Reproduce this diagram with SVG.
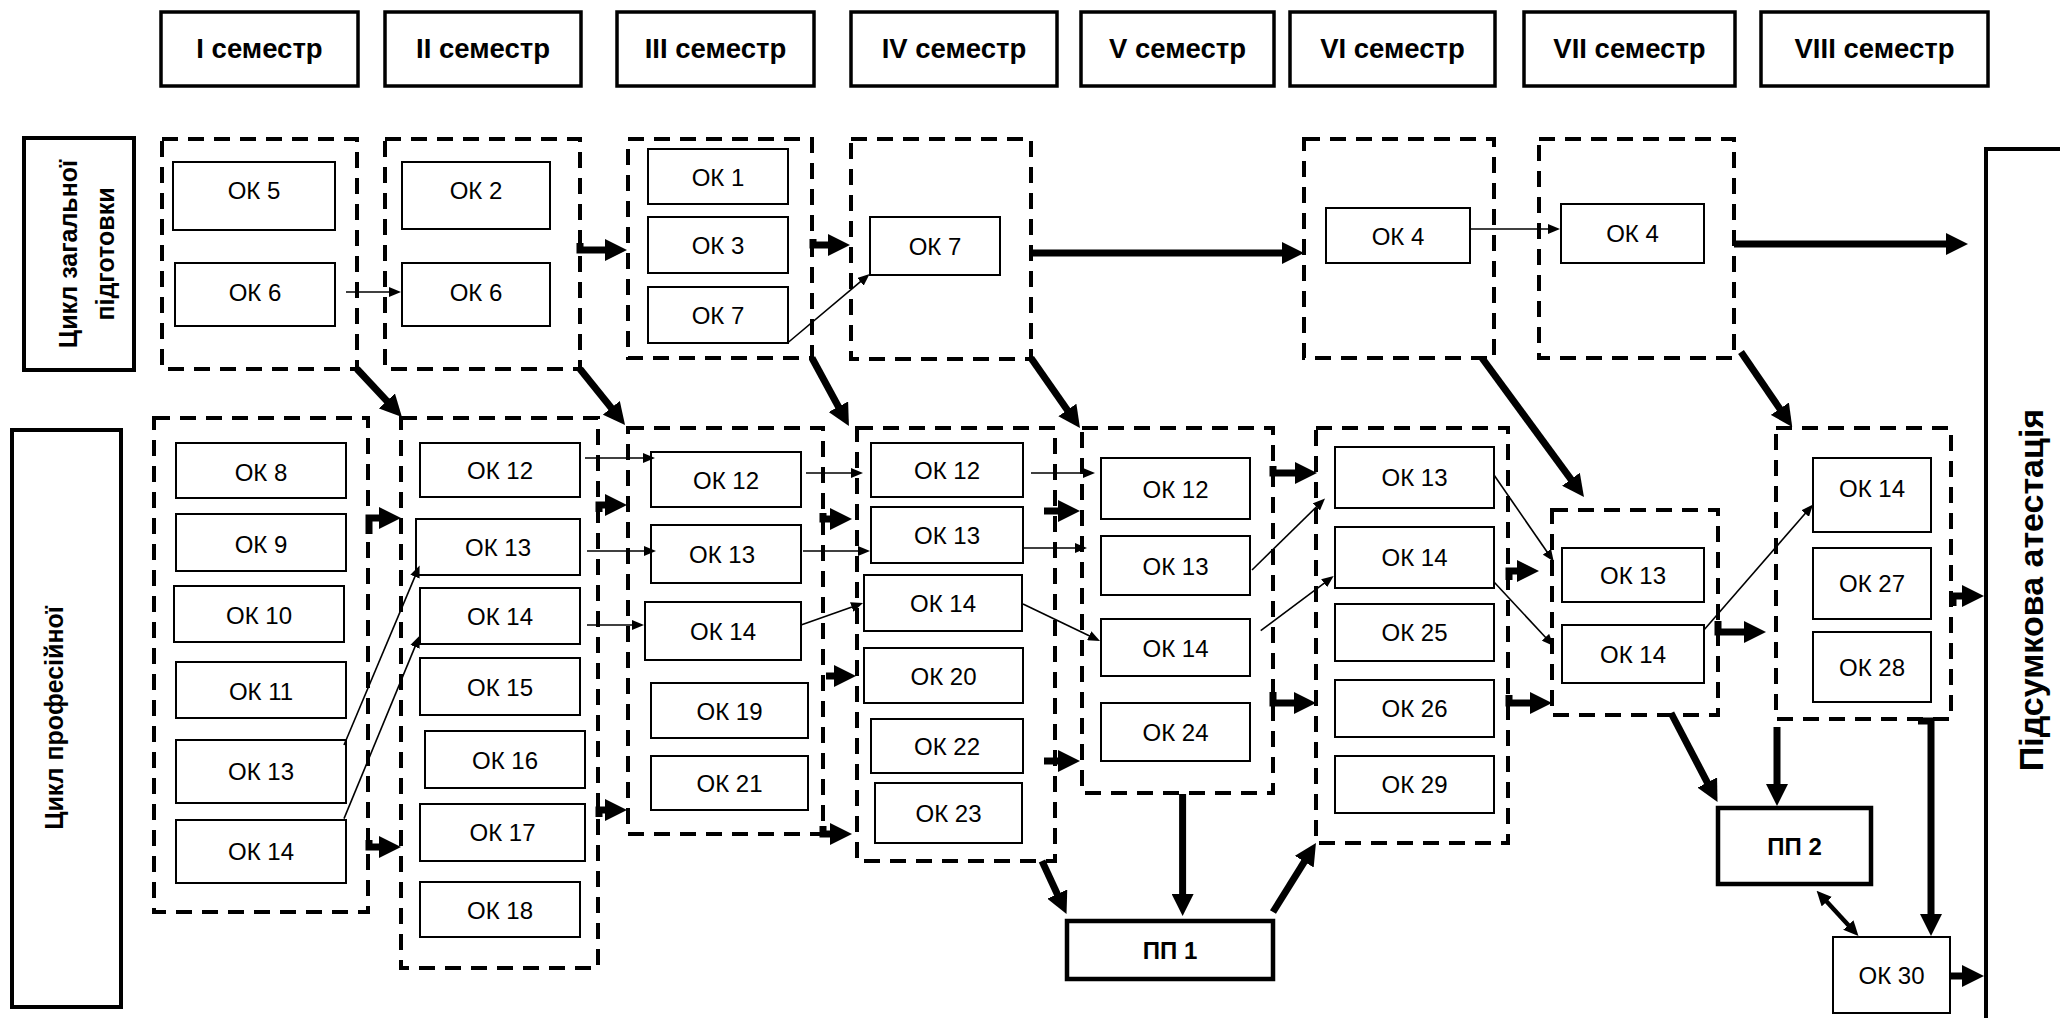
<svg xmlns="http://www.w3.org/2000/svg" width="2060" height="1018" viewBox="0 0 2060 1018">
<defs>
<style>
.hdr{fill:#fff;stroke:#000;stroke-width:3.5}
.side{fill:#fff;stroke:#000;stroke-width:4}
.grp{fill:none;stroke:#000;stroke-width:4;stroke-dasharray:16 10}
.nd{fill:#fff;stroke:#000;stroke-width:2}
.pp{fill:#fff;stroke:#000;stroke-width:4.5}
.ht{font-family:"Liberation Sans",Arial,sans-serif;font-weight:bold;font-size:27.5px;text-anchor:middle}
.vt{font-family:"Liberation Sans",Arial,sans-serif;font-weight:bold;font-size:25px;text-anchor:middle}
.nt{font-family:"Liberation Sans",Arial,sans-serif;font-size:24px;text-anchor:middle}
.pt{font-family:"Liberation Sans",Arial,sans-serif;font-weight:bold;font-size:24px;text-anchor:middle}
.thick{fill:none;stroke:#000;stroke-width:7;marker-end:url(#big)}
.thin{fill:none;stroke:#000;stroke-width:1.6;marker-end:url(#sm)}
.dbl{fill:none;stroke:#000;stroke-width:4.5;marker-end:url(#md);marker-start:url(#md)}
</style>
<marker id="big" viewBox="0 0 22 22" refX="6" refY="11" markerWidth="22" markerHeight="22" markerUnits="userSpaceOnUse" orient="auto"><path d="M0,0L22,11L0,22z" fill="#000"/></marker>
<marker id="sm" viewBox="0 0 12 10" refX="4" refY="5" markerWidth="12" markerHeight="10" markerUnits="userSpaceOnUse" orient="auto"><path d="M0,0L12,5L0,10z" fill="#000"/></marker>
<marker id="md" viewBox="0 0 15 14" refX="5" refY="7" markerWidth="15" markerHeight="14" markerUnits="userSpaceOnUse" orient="auto-start-reverse"><path d="M0,0L15,7L0,14z" fill="#000"/></marker>
</defs>
<rect width="2060" height="1018" fill="#fff"/>

<g id="headers">
<g id="sem1"><rect class="hdr" x="161" y="12" width="197" height="74"/><text class="ht" x="259.5" y="58">I семестр</text></g>
<g id="sem2"><rect class="hdr" x="385" y="12" width="196" height="74"/><text class="ht" x="483" y="58">II семестр</text></g>
<g id="sem3"><rect class="hdr" x="617" y="12" width="197" height="74"/><text class="ht" x="715.5" y="58">III семестр</text></g>
<g id="sem4"><rect class="hdr" x="851" y="12" width="206" height="74"/><text class="ht" x="954" y="58">IV семестр</text></g>
<g id="sem5"><rect class="hdr" x="1081" y="12" width="193" height="74"/><text class="ht" x="1177.5" y="58">V семестр</text></g>
<g id="sem6"><rect class="hdr" x="1290" y="12" width="205" height="74"/><text class="ht" x="1392.5" y="58">VI семестр</text></g>
<g id="sem7"><rect class="hdr" x="1524" y="12" width="211" height="74"/><text class="ht" x="1629.5" y="58">VII семестр</text></g>
<g id="sem8"><rect class="hdr" x="1761" y="12" width="227" height="74"/><text class="ht" x="1874.5" y="58">VIII семестр</text></g>
</g>

<g id="cycle-general"><rect class="side" x="24" y="138" width="110" height="232"/>
<text class="vt" transform="translate(77,254) rotate(-90)">Цикл загальної</text>
<text class="vt" transform="translate(114,254) rotate(-90)">підготовки</text></g>
<g id="cycle-prof"><rect class="side" x="12" y="430" width="109" height="577"/>
<text class="vt" transform="translate(63,718) rotate(-90)">Цикл професійної</text></g>
<g id="final"><rect class="side" x="1986" y="149" width="90" height="900"/>
<text class="vt" style="font-size:34px" transform="translate(2043,590) rotate(-90)">Підсумкова атестація</text></g>

<g id="groups">
<rect id="g1t" class="grp" x="162" y="139" width="195" height="230"/>
<rect id="g2t" class="grp" x="385" y="139" width="195" height="230"/>
<rect id="g3t" class="grp" x="628" y="139" width="184" height="219"/>
<rect id="g4t" class="grp" x="851" y="139" width="180" height="220"/>
<rect id="g6t" class="grp" x="1304" y="139" width="190" height="219"/>
<rect id="g7t" class="grp" x="1539" y="139" width="195" height="219"/>
<rect id="g1b" class="grp" x="154" y="418" width="214" height="494"/>
<rect id="g2b" class="grp" x="401" y="418" width="197" height="550"/>
<rect id="g3b" class="grp" x="628" y="428" width="195" height="406"/>
<rect id="g4b" class="grp" x="857" y="428" width="198" height="433"/>
<rect id="g5b" class="grp" x="1082" y="428" width="191" height="365"/>
<rect id="g6b" class="grp" x="1316" y="428" width="192" height="415"/>
<rect id="g7b" class="grp" x="1552" y="510" width="166" height="205"/>
<rect id="g8b" class="grp" x="1776" y="428" width="175" height="291"/>
</g>

<g id="n-ok5-1"><rect class="nd" x="173" y="162" width="162" height="68"/><text class="nt" x="254" y="199">ОК 5</text></g>
<g id="n-ok6-1"><rect class="nd" x="175" y="263" width="160" height="63"/><text class="nt" x="255" y="301">ОК 6</text></g>
<g id="n-ok2-2"><rect class="nd" x="402" y="162" width="148" height="67"/><text class="nt" x="476" y="199">ОК 2</text></g>
<g id="n-ok6-2"><rect class="nd" x="402" y="263" width="148" height="63"/><text class="nt" x="476" y="301">ОК 6</text></g>
<g id="n-ok1-3"><rect class="nd" x="648" y="149" width="140" height="55"/><text class="nt" x="718" y="186">ОК 1</text></g>
<g id="n-ok3-3"><rect class="nd" x="648" y="217" width="140" height="56"/><text class="nt" x="718" y="253.5">ОК 3</text></g>
<g id="n-ok7-3"><rect class="nd" x="648" y="287" width="140" height="56"/><text class="nt" x="718" y="323.5">ОК 7</text></g>
<g id="n-ok7-4"><rect class="nd" x="870" y="217" width="130" height="58"/><text class="nt" x="935" y="254.5">ОК 7</text></g>
<g id="n-ok4-6"><rect class="nd" x="1326" y="208" width="144" height="55"/><text class="nt" x="1398" y="245">ОК 4</text></g>
<g id="n-ok4-7"><rect class="nd" x="1561" y="204" width="143" height="59"/><text class="nt" x="1632.5" y="242">ОК 4</text></g>

<g id="n-ok8-1"><rect class="nd" x="176" y="443" width="170" height="55"/><text class="nt" x="261" y="481">ОК 8</text></g>
<g id="n-ok9-1"><rect class="nd" x="176" y="514" width="170" height="57"/><text class="nt" x="261" y="552.5">ОК 9</text></g>
<g id="n-ok10-1"><rect class="nd" x="174" y="586" width="170" height="56"/><text class="nt" x="259" y="624">ОК 10</text></g>
<g id="n-ok11-1"><rect class="nd" x="176" y="662" width="170" height="56"/><text class="nt" x="261" y="699.5">ОК 11</text></g>
<g id="n-ok13-1"><rect class="nd" x="176" y="740" width="170" height="63"/><text class="nt" x="261" y="780">ОК 13</text></g>
<g id="n-ok14-1"><rect class="nd" x="176" y="820" width="170" height="63"/><text class="nt" x="261" y="860">ОК 14</text></g>

<g id="n-ok12-2"><rect class="nd" x="420" y="443" width="160" height="54"/><text class="nt" x="500" y="479">ОК 12</text></g>
<g id="n-ok13-2"><rect class="nd" x="416" y="519" width="164" height="56"/><text class="nt" x="498" y="556">ОК 13</text></g>
<g id="n-ok14-2"><rect class="nd" x="420" y="588" width="160" height="56"/><text class="nt" x="500" y="625">ОК 14</text></g>
<g id="n-ok15-2"><rect class="nd" x="420" y="658" width="160" height="57"/><text class="nt" x="500" y="695.5">ОК 15</text></g>
<g id="n-ok16-2"><rect class="nd" x="425" y="731" width="160" height="57"/><text class="nt" x="505" y="768.5">ОК 16</text></g>
<g id="n-ok17-2"><rect class="nd" x="420" y="804" width="165" height="57"/><text class="nt" x="502.5" y="841">ОК 17</text></g>
<g id="n-ok18-2"><rect class="nd" x="420" y="882" width="160" height="55"/><text class="nt" x="500" y="918.5">ОК 18</text></g>

<g id="n-ok12-3"><rect class="nd" x="651" y="452" width="150" height="55"/><text class="nt" x="726" y="488.5">ОК 12</text></g>
<g id="n-ok13-3"><rect class="nd" x="651" y="525" width="150" height="58"/><text class="nt" x="722" y="563">ОК 13</text></g>
<g id="n-ok14-3"><rect class="nd" x="645" y="602" width="156" height="58"/><text class="nt" x="723" y="640">ОК 14</text></g>
<g id="n-ok19-3"><rect class="nd" x="651" y="683" width="157" height="55"/><text class="nt" x="729.5" y="719.5">ОК 19</text></g>
<g id="n-ok21-3"><rect class="nd" x="651" y="756" width="157" height="54"/><text class="nt" x="729.5" y="792">ОК 21</text></g>

<g id="n-ok12-4"><rect class="nd" x="871" y="443" width="152" height="54"/><text class="nt" x="947" y="479">ОК 12</text></g>
<g id="n-ok13-4"><rect class="nd" x="871" y="507" width="152" height="56"/><text class="nt" x="947" y="544">ОК 13</text></g>
<g id="n-ok14-4"><rect class="nd" x="864" y="575" width="158" height="56"/><text class="nt" x="943" y="612">ОК 14</text></g>
<g id="n-ok20-4"><rect class="nd" x="864" y="648" width="159" height="55"/><text class="nt" x="943.5" y="684.5">ОК 20</text></g>
<g id="n-ok22-4"><rect class="nd" x="871" y="719" width="152" height="54"/><text class="nt" x="947" y="755">ОК 22</text></g>
<g id="n-ok23-4"><rect class="nd" x="875" y="783" width="147" height="60"/><text class="nt" x="948.5" y="822">ОК 23</text></g>

<g id="n-ok12-5"><rect class="nd" x="1101" y="458" width="149" height="61"/><text class="nt" x="1175.5" y="497.5">ОК 12</text></g>
<g id="n-ok13-5"><rect class="nd" x="1101" y="536" width="149" height="59"/><text class="nt" x="1175.5" y="574.5">ОК 13</text></g>
<g id="n-ok14-5"><rect class="nd" x="1101" y="619" width="149" height="57"/><text class="nt" x="1175.5" y="656.5">ОК 14</text></g>
<g id="n-ok24-5"><rect class="nd" x="1101" y="703" width="149" height="58"/><text class="nt" x="1175.5" y="741">ОК 24</text></g>
<g id="n-pp1"><rect class="pp" x="1067" y="921" width="206" height="58"/><text class="pt" x="1170" y="958.5">ПП 1</text></g>

<g id="n-ok13-6"><rect class="nd" x="1335" y="447" width="159" height="61"/><text class="nt" x="1414.5" y="486">ОК 13</text></g>
<g id="n-ok14-6"><rect class="nd" x="1335" y="527" width="159" height="61"/><text class="nt" x="1414.5" y="566">ОК 14</text></g>
<g id="n-ok25-6"><rect class="nd" x="1335" y="604" width="159" height="57"/><text class="nt" x="1414.5" y="641">ОК 25</text></g>
<g id="n-ok26-6"><rect class="nd" x="1335" y="680" width="159" height="57"/><text class="nt" x="1414.5" y="717">ОК 26</text></g>
<g id="n-ok29-6"><rect class="nd" x="1335" y="756" width="159" height="57"/><text class="nt" x="1414.5" y="793">ОК 29</text></g>

<g id="n-ok13-7"><rect class="nd" x="1562" y="548" width="142" height="54"/><text class="nt" x="1633" y="583.5">ОК 13</text></g>
<g id="n-ok14-7"><rect class="nd" x="1562" y="625" width="142" height="58"/><text class="nt" x="1633" y="662.5">ОК 14</text></g>

<g id="n-ok14-8"><rect class="nd" x="1813" y="458" width="118" height="74"/><text class="nt" x="1872" y="497">ОК 14</text></g>
<g id="n-ok27-8"><rect class="nd" x="1813" y="548" width="118" height="71"/><text class="nt" x="1872" y="592">ОК 27</text></g>
<g id="n-ok28-8"><rect class="nd" x="1813" y="632" width="118" height="70"/><text class="nt" x="1872" y="675.5">ОК 28</text></g>
<g id="n-pp2"><rect class="pp" x="1718" y="808" width="153" height="76"/><text class="pt" x="1794.5" y="854.5">ПП 2</text></g>
<g id="n-ok30"><rect class="nd" x="1833" y="937" width="117" height="76"/><text class="nt" x="1891.5" y="983.5">ОК 30</text></g>

<g id="connectors">
<path class="thick" d="M580,243V250H611"/>
<path class="thick" d="M813,239V245H834"/>
<path class="thick" d="M1031,253H1288"/>
<path class="thick" d="M1734,244H1952"/>
<path class="thick" d="M357,369L391,405.3"/>
<path class="thick" d="M580,369L615,412.5"/>
<path class="thick" d="M812,358L841.3,412"/>
<path class="thick" d="M1031,358L1070.8,414.9"/>
<path class="thick" d="M1482,358L1574.5,484.1"/>
<path class="thick" d="M1741,352L1783.2,413.7"/>
<path class="thick" d="M369,534V518H385"/>
<path class="thick" d="M369,840V847H385"/>
<path class="thick" d="M599,512V505H611"/>
<path class="thick" d="M599,817V810H611"/>
<path class="thick" d="M823,513V519H836"/>
<path class="thick" d="M826,676H840"/>
<path class="thick" d="M823,826V834H836"/>
<path class="thick" d="M1044,511H1064"/>
<path class="thick" d="M1044,761H1064"/>
<path class="thick" d="M1273,466V473H1301"/>
<path class="thick" d="M1273,692V703H1300"/>
<path class="thick" d="M1509,580V571H1523"/>
<path class="thick" d="M1509,695V703H1536"/>
<path class="thick" d="M1718,621V632H1750"/>
<path class="thick" d="M1953,606V596H1968"/>
<path class="thick" d="M1950,976H1968"/>
<path class="thick" d="M1042,861L1059.8,899.5"/>
<path class="thick" d="M1182.6,794V900"/>
<path class="thick" d="M1273,912L1307.5,856.6"/>
<path class="thick" d="M1671,713L1710.1,787.8"/>
<path class="thick" d="M1777,727V790"/>
<path class="thick" d="M1918,721H1931V920"/>
<path class="dbl" d="M1823.4,898L1851.7,928.7"/>

<path class="thin" d="M346,292H393"/>
<path class="thin" d="M787.5,343L863.5,279.2"/>
<path class="thin" d="M1469.5,229H1552"/>
<path class="thin" d="M344,745L416.5,572.9"/>
<path class="thin" d="M344,818.6L416.5,643.1"/>
<path class="thin" d="M585,458H647"/>
<path class="thin" d="M587,551H648"/>
<path class="thin" d="M587,625H636"/>
<path class="thin" d="M806,473H855"/>
<path class="thin" d="M803,551H862"/>
<path class="thin" d="M801,625L855.5,605.7"/>
<path class="thin" d="M1031,473H1087"/>
<path class="thin" d="M1023,548H1079"/>
<path class="thin" d="M1023,604L1092.8,637.5"/>
<path class="thin" d="M1252,570L1319.3,504.1"/>
<path class="thin" d="M1260.7,630.6L1327.3,580.8"/>
<path class="thin" d="M1494,475L1549.2,555"/>
<path class="thin" d="M1494,582L1548.2,640.2"/>
<path class="thin" d="M1703.5,630.6L1807.8,510.5"/>
</g>
</svg>
